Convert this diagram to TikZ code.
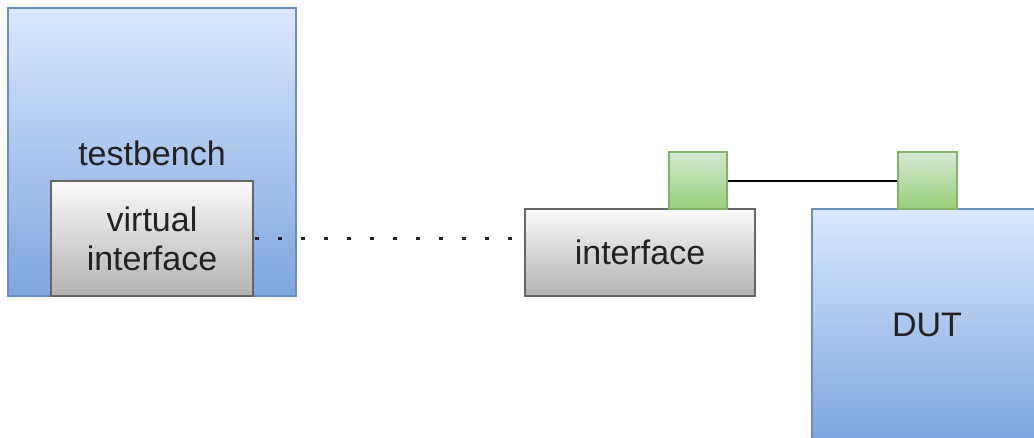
\documentclass[tikz,border=0pt]{standalone}
\usepackage{fontspec}
\setmainfont{Liberation Sans}
\definecolor{blueTop}{HTML}{DAE8FC}
\definecolor{blueBot}{HTML}{7EA6E0}
\definecolor{blueLine}{HTML}{6C8EBF}
\definecolor{grayTop}{HTML}{FAFAFA}
\definecolor{grayBot}{HTML}{B3B3B3}
\definecolor{grayLine}{HTML}{666666}
\definecolor{greenTop}{HTML}{D5E8D4}
\definecolor{greenBot}{HTML}{97D077}
\definecolor{greenLine}{HTML}{82B366}
\definecolor{ink}{HTML}{222222}
\tikzset{
  textlabel/.style={inner sep=0pt, text=ink,
    font=\fontsize{34}{40}\selectfont, align=center},
  block/.style={textlabel, rectangle, line width=2.5pt},
  bluebox/.style={block, draw=blueLine, top color=blueTop, bottom color=blueBot},
  graybox/.style={block, draw=grayLine, top color=grayTop, bottom color=grayBot},
  portbox/.style={block, draw=greenLine, top color=greenTop, bottom color=greenBot,
    minimum width=58pt, minimum height=57pt},
  dotline/.style={line width=3.5pt, draw=ink, dash pattern=on 3.5pt off 19.5pt},
  wire/.style={line width=2pt, draw=black},
}
\begin{document}
\begin{tikzpicture}[x=1pt, y=-1pt]
  \useasboundingbox (0,0) rectangle (1034,437);
  \clip (0,0) rectangle (1034,437);
  \fill[white] (0,0) rectangle (1034,437);

  % testbench with its virtual interface
  \node[bluebox, minimum width=288pt, minimum height=288pt] (tb) at (152,152) {};
  \node[textlabel] (tblabel) at (152,153) {testbench};
  \node[graybox, minimum width=202pt, minimum height=115pt] (vi) at (152,238.5)
    {virtual\\[-1pt]interface};

  % interface with its port
  \node[graybox, minimum width=230pt, minimum height=87pt] (itf) at (640,252.5) {interface};
  \node[portbox] (p1) at (698,180.5) {};

  % design under test with its port
  \node[bluebox, minimum width=230pt, minimum height=232pt] (dut) at (927,325) {DUT};
  \node[portbox, minimum width=59pt] (p2) at (927.5,180.5) {};

  % connections
  \draw[dotline] ([xshift=1pt]vi.east) -- (vi.east -| itf.west);
  \draw[wire] (p1.east) -- (p2.west);
\end{tikzpicture}
\end{document}
